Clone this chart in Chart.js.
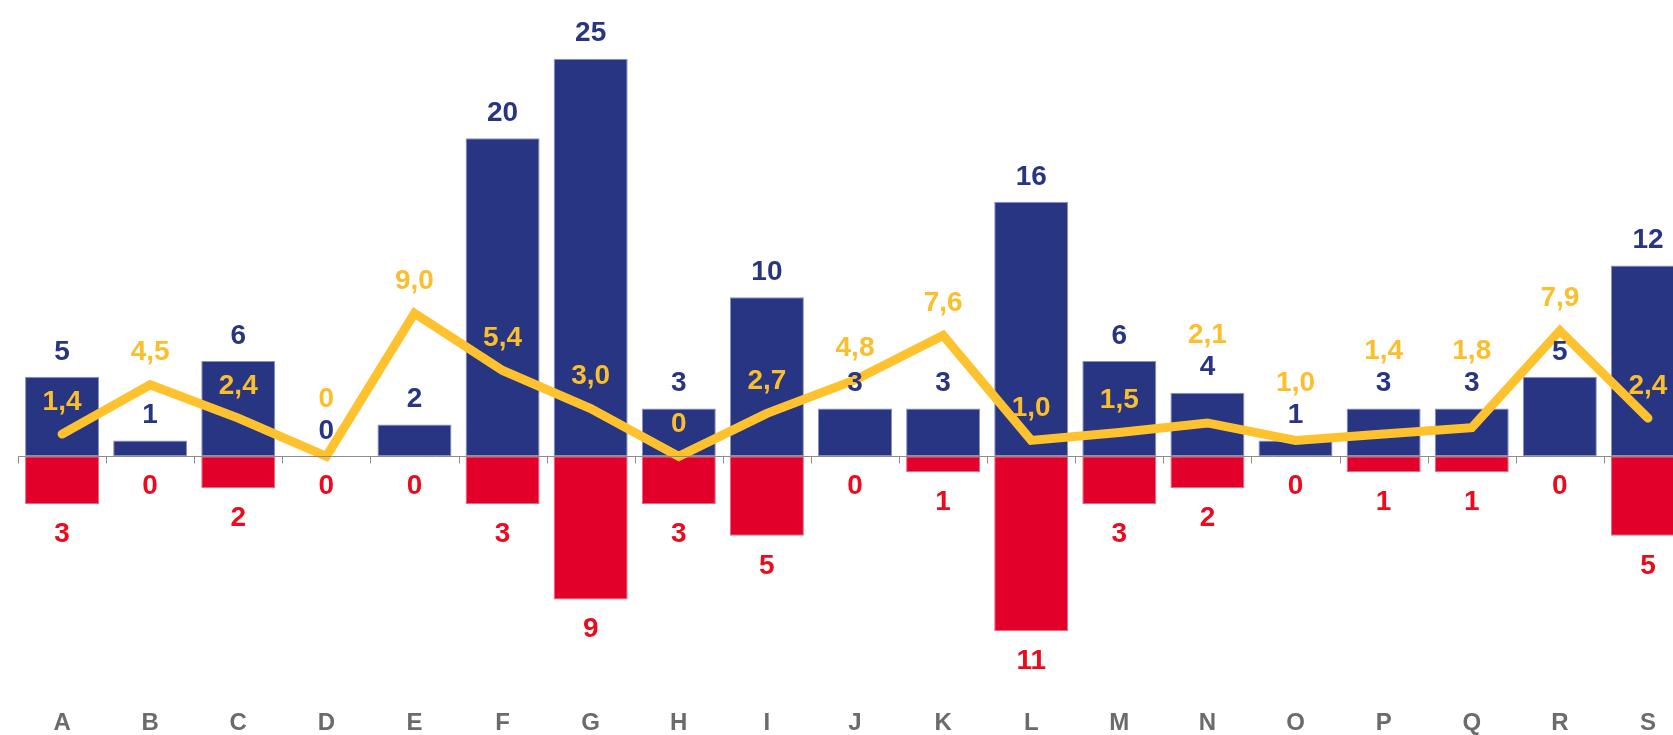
<!DOCTYPE html>
<html>
<head>
<meta charset="utf-8">
<script src="https://cdn.jsdelivr.net/npm/chart.js@4/dist/chart.umd.min.js"></script>
<style>
  html, body { margin: 0; padding: 0; background: #fff; overflow: hidden; }
  #wrap { width: 1694px; height: 735px; position: relative; }
</style>
</head>
<body>
<div id="wrap"><canvas id="myChart"></canvas></div>
<script>
// categories
var labels = ['A','B','C','D','E','F','G','H','I','J','K','L','M','N','O','P','Q','R','S'];
// blue bars (up)
var hausse = [5, 1, 6, 0, 2, 20, 25, 3, 10, 3, 3, 16, 6, 4, 1, 3, 3, 5, 12];
// red bars (down, shown as positive counts)
var baisse = [3, 0, 2, 0, 0, 3, 9, 3, 5, 0, 1, 11, 3, 2, 0, 1, 1, 0, 5];
// yellow line
var ratio = [1.4, 4.5, 2.4, 0, 9.0, 5.4, 3.0, 0, 2.7, 4.8, 7.6, 1.0, 1.5, 2.1, 1.0, 1.4, 1.8, 7.9, 2.4];

var BLUE = '#283583';
var RED = '#e2002b';
var YELLOW = '#fec22f';

function fmtRatio(v) {
    if (v === 0) return '0';
    return v.toFixed(1).replace('.', ',');
}

// zero line with small ticks between categories
var zeroLine = {
    id: 'zeroLine',
    afterDatasetsDraw: function(chart) {
        var ctx = chart.ctx;
        var x = chart.scales.x, y = chart.scales.y;
        var y0 = Math.round(y.getPixelForValue(0)) + 0.5;
        var step = x.getPixelForValue(1) - x.getPixelForValue(0);
        ctx.save();
        ctx.strokeStyle = '#8c8c8c';
        ctx.lineWidth = 1;
        ctx.beginPath();
        ctx.moveTo(chart.chartArea.left, y0);
        ctx.lineTo(chart.chartArea.right, y0);
        for (var i = 0; i <= labels.length; i++) {
            var xx = Math.round(x.getPixelForValue(0) - step / 2 + i * step) + 0.5;
            ctx.moveTo(xx, y0);
            ctx.lineTo(xx, y0 + 7);
        }
        ctx.stroke();
        ctx.restore();
    }
};

// value labels
var valueLabels = {
    id: 'valueLabels',
    afterDraw: function(chart) {
        var ctx = chart.ctx;
        var x = chart.scales.x, y = chart.scales.y;
        ctx.save();
        ctx.textAlign = 'center';
        ctx.textBaseline = 'middle';
        ctx.font = 'bold 28px "Liberation Sans", Arial, sans-serif';
        var blueY = [];
        ctx.fillStyle = BLUE;
        hausse.forEach(function(v, i) {
            blueY[i] = y.getPixelForValue(v) - 25;
            ctx.fillText(String(v), x.getPixelForValue(i), blueY[i]);
        });
        ctx.fillStyle = '#ee0a1c';
        baisse.forEach(function(v, i) {
            ctx.fillText(String(v), x.getPixelForValue(i), y.getPixelForValue(-v) + 30);
        });
        ctx.fillStyle = '#fbbe2c';
        ratio.forEach(function(v, i) {
            var ly = y.getPixelForValue(v) - 32;
            // push above the blue label if they would collide
            if (Math.abs(ly - blueY[i]) < 30) ly = blueY[i] - 32;
            ctx.fillText(fmtRatio(v), x.getPixelForValue(i), ly);
        });
        ctx.restore();
    }
};

var ctx = document.getElementById('myChart');

var graphique = new Chart(ctx.getContext('2d'), {
    data: {
        labels: labels,
        datasets: [{
            type: 'bar',
            data: hausse,
            backgroundColor: BLUE,
            borderColor: '#8a93bd',
            borderWidth: 1,
            borderSkipped: false,
            barPercentage: 0.84,
            categoryPercentage: 1,
            order: 2
        }, {
            type: 'bar',
            data: baisse.map(function(v) { return -v; }),
            backgroundColor: RED,
            borderColor: '#e9667f',
            borderWidth: 1,
            borderSkipped: false,
            barPercentage: 0.84,
            categoryPercentage: 1,
            order: 2
        }, {
            type: 'line',
            data: ratio,
            borderColor: YELLOW,
            borderWidth: 9,
            borderCapStyle: 'round',
            borderJoinStyle: 'miter',
            pointRadius: 0,
            tension: 0,
            fill: false,
            order: 1
        }]
    },
    options: {
        responsive: true,
        maintainAspectRatio: false,
        animation: false,
        layout: { padding: { left: 18, right: 2, top: 11, bottom: 0 } },
        plugins: {
            legend: { display: false },
            tooltip: { enabled: false }
        },
        scales: {
            x: {
                stacked: true,
                grid: { display: false, drawTicks: false },
                border: { display: false },
                afterFit: function(s) { s.height = 56; },
                ticks: {
                    color: '#6b6b6b',
                    padding: 30,
                    font: { family: '"Liberation Sans", Arial, sans-serif', size: 24, weight: 'bold' }
                }
            },
            y: {
                stacked: true,
                display: false,
                min: -14,
                max: 28
            }
        }
    },
    plugins: [zeroLine, valueLabels]
});
</script>
</body>
</html>
